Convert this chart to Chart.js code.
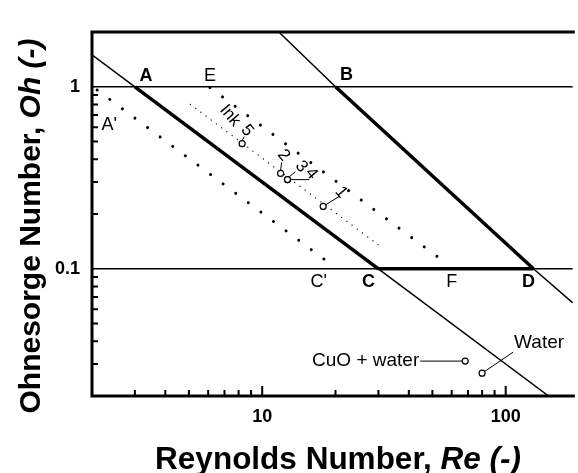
<!DOCTYPE html>
<html>
<head>
<meta charset="utf-8">
<script src="https://cdn.jsdelivr.net/npm/chart.js@4/dist/chart.umd.min.js"></script>
<style>
  html, body { margin: 0; padding: 0; background: #fff; }
</style>
</head>
<body>
<canvas id="map" width="578" height="473"></canvas>
<script>
// axis limits and ticks
const reLimits = [2, 188.6];
const ohLimits = [0.02, 2];
const reMajorTicks = [10, 100];
const reMinorTicks = [3, 4, 5, 6, 7, 8, 9, 20, 30, 40, 50, 60, 70, 80, 90];
const ohMajorTicks = [1, 0.1];
const ohMinorTicks = [0.03, 0.04, 0.05, 0.06, 0.07, 0.08, 0.09, 0.2, 0.3, 0.4, 0.5, 0.6, 0.7, 0.8, 0.9];

// boundary lines [Re, Oh]
const lineAC = [[2, 1.5], [3, 1], [30, 0.1], [150, 0.02]];
const lineBD = [[11.7, 2], [20, 1], [130, 0.1], [188.6, 0.065]];
const lineOh1 = [[2, 1], [188.6, 1]];
const lineOh01 = [[2, 0.1], [188.6, 0.1]];
const lineCD = [[30, 0.1], [130, 0.1]];

// dotted guide lines
const dotsAC = [[2.1, 0.96], [19.5, 0.104]];
const dotsEF = [[6.1, 0.99], [56.6, 0.108]];
const dotsInk = [[5.07, 0.8], [30.3, 0.134]];

// fluids
const inkNames = ['5', '2', '3', '4', '1'];
const inkRe = [8.27, 11.9, 12.7, 12.7, 17.8];
const inkOh = [0.487, 0.334, 0.309, 0.309, 0.22];
const otherNames = ['CuO + water', 'Water'];
const otherRe = [68.2, 80];
const otherOh = [0.0311, 0.0267];

// corner labels
const cornerNames = ['A', 'B', 'C', 'D', 'E', 'F', "A'", "C'"];
const cornerRe = [3, 20, 30, 130, 6.1, 60, 2.1, 19.5];
const cornerOh = [1, 1, 0.1, 0.1, 1, 0.1, 1, 0.1];

const pts = arr => arr.map(p => ({ x: p[0], y: p[1] }));
const FONT = 'Arial, "Liberation Sans", Helvetica, sans-serif';

function lineSet(data, width, dash) {
  return {
    data: pts(data), showLine: true, pointRadius: 0, borderColor: '#000',
    borderWidth: width, borderDash: dash || [], borderCapStyle: dash ? 'round' : 'butt',
    fill: false, tension: 0
  };
}

const decor = {
  id: 'decor',
  afterDatasetsDraw(chart) {
    const { ctx, chartArea: a, scales: { x, y } } = chart;
    const px = v => x.getPixelForValue(v);
    const py = v => y.getPixelForValue(v);
    ctx.save();
    ctx.strokeStyle = '#000';
    ctx.fillStyle = '#000';

    // frame (right side is cut off in the original)
    ctx.lineWidth = 3;
    ctx.beginPath();
    ctx.moveTo(a.right + 2, a.top); ctx.lineTo(a.left, a.top);
    ctx.lineTo(a.left, a.bottom); ctx.lineTo(a.right + 2, a.bottom);
    ctx.stroke();

    // inward ticks
    ctx.lineWidth = 2;
    ctx.beginPath();
    reMinorTicks.forEach(v => { ctx.moveTo(px(v), a.bottom); ctx.lineTo(px(v), a.bottom - 6); });
    reMajorTicks.forEach(v => { ctx.moveTo(px(v), a.bottom); ctx.lineTo(px(v), a.bottom - 10); });
    ohMinorTicks.forEach(v => { ctx.moveTo(a.left, py(v)); ctx.lineTo(a.left + 6, py(v)); });
    ctx.stroke();

    // tick labels
    ctx.font = 'bold 18px ' + FONT;
    ctx.textAlign = 'center'; ctx.textBaseline = 'middle';
    reMajorTicks.forEach(v => ctx.fillText(String(v), px(v), a.bottom + 21));
    ctx.textAlign = 'right';
    ohMajorTicks.forEach(v => ctx.fillText(String(v), a.left - 12, py(v)));

    // axis titles with italic symbol
    function mixed(parts, cx, cy, size) {
      let w = 0;
      parts.forEach(p => { ctx.font = p[1] + ' ' + size + 'px ' + FONT; w += ctx.measureText(p[0]).width; });
      let xx = cx - w / 2;
      ctx.textAlign = 'left'; ctx.textBaseline = 'alphabetic';
      parts.forEach(p => { ctx.font = p[1] + ' ' + size + 'px ' + FONT; ctx.fillText(p[0], xx, cy); xx += ctx.measureText(p[0]).width; });
    }
    mixed([['Reynolds Number, ', 'bold'], ['Re (-)', 'italic bold']], 338, 469, 31.5);
    ctx.save();
    ctx.translate(40, 226); ctx.rotate(-Math.PI / 2);
    mixed([['Ohnesorge Number, ', 'bold'], ['Oh (-)', 'italic bold']], 0, 0, 30);
    ctx.restore();

    // corner labels
    const cornerOff = [[11, -11], [11, -12], [-10, 13], [-5, 13], [0, -11], [0, 13], [12, 38], [-14, 13]];
    ctx.textAlign = 'center'; ctx.textBaseline = 'middle';
    cornerNames.forEach((t, i) => {
      ctx.font = (t.length === 1 && 'ABCD'.includes(t) ? 'bold 18px ' : '18px ') + FONT;
      ctx.fillText(t, px(cornerRe[i]) + cornerOff[i][0], py(cornerOh[i]) + cornerOff[i][1]);
    });

    // ink labels, rotated, with leaders
    const ang = 50 * Math.PI / 180;
    const rot = (t, cx, cy) => {
      ctx.save(); ctx.translate(cx, cy); ctx.rotate(ang); ctx.fillText(t, 0, 0); ctx.restore();
    };
    ctx.font = '17px ' + FONT;
    ctx.lineWidth = 1;
    const labOff = [[5, -13], [3, -18], [14, -13], [24, -6], [18, -14]];
    const lead = [[[0, -3], [2, -7]], [[0, -3], [1, -11]], [[2, -3], [8, -8]], [[3, 0], [22, 0]], [[3, -2], [16, -10]]];
    inkNames.forEach((t, i) => {
      const cx = px(inkRe[i]), cy = py(inkOh[i]);
      rot(t, cx + labOff[i][0], cy + labOff[i][1]);
      ctx.beginPath();
      ctx.moveTo(cx + lead[i][0][0], cy + lead[i][0][1]);
      ctx.lineTo(cx + lead[i][1][0], cy + lead[i][1][1]);
      ctx.stroke();
    });
    rot('Ink', px(inkRe[0]) - 12, py(inkOh[0]) - 28);

    // other fluids
    ctx.font = '19px ' + FONT;
    ctx.textAlign = 'right';
    const c0x = px(otherRe[0]), c0y = py(otherOh[0]);
    ctx.fillText(otherNames[0], c0x - 46, c0y);
    ctx.beginPath(); ctx.moveTo(c0x - 45, c0y); ctx.lineTo(c0x - 3, c0y); ctx.stroke();
    ctx.textAlign = 'left';
    const c1x = px(otherRe[1]), c1y = py(otherOh[1]);
    ctx.fillText(otherNames[1], c1x + 32, c1y - 30);
    ctx.beginPath(); ctx.moveTo(c1x + 3, c1y - 2); ctx.lineTo(c1x + 31, c1y - 21); ctx.stroke();

    ctx.restore();
  }
};

new Chart(document.getElementById('map'), {
  type: 'scatter',
  data: {
    datasets: [
      {
        data: inkRe.map((r, i) => ({ x: r, y: inkOh[i] })).concat(otherRe.map((r, i) => ({ x: r, y: otherOh[i] }))),
        pointRadius: 3, pointBorderWidth: 1.2, pointBorderColor: '#000', pointBackgroundColor: '#fff', showLine: false
      },
      lineSet(lineAC.slice(1, 3), 3.5),
      lineSet(lineBD.slice(1, 3), 3.5),
      lineSet(lineCD, 3.5),
      lineSet(lineAC, 1.5),
      lineSet(lineBD, 1.5),
      lineSet(lineOh1, 1.5),
      lineSet(lineOh01, 1.5),
      lineSet(dotsAC, 3, [0.01, 15.7]),
      lineSet(dotsEF, 3, [0.01, 15.7]),
      lineSet(dotsInk, 1.3, [0.01, 6.5])
    ]
  },
  options: {
    responsive: false,
    animation: false,
    layout: { padding: { left: 92, top: 32, right: 0, bottom: 77 } },
    plugins: { legend: { display: false }, tooltip: { enabled: false } },
    scales: {
      x: { type: 'logarithmic', min: reLimits[0], max: reLimits[1], display: false },
      y: { type: 'logarithmic', min: ohLimits[0], max: ohLimits[1], display: false }
    }
  },
  plugins: [decor]
});
</script>
</body>
</html>
